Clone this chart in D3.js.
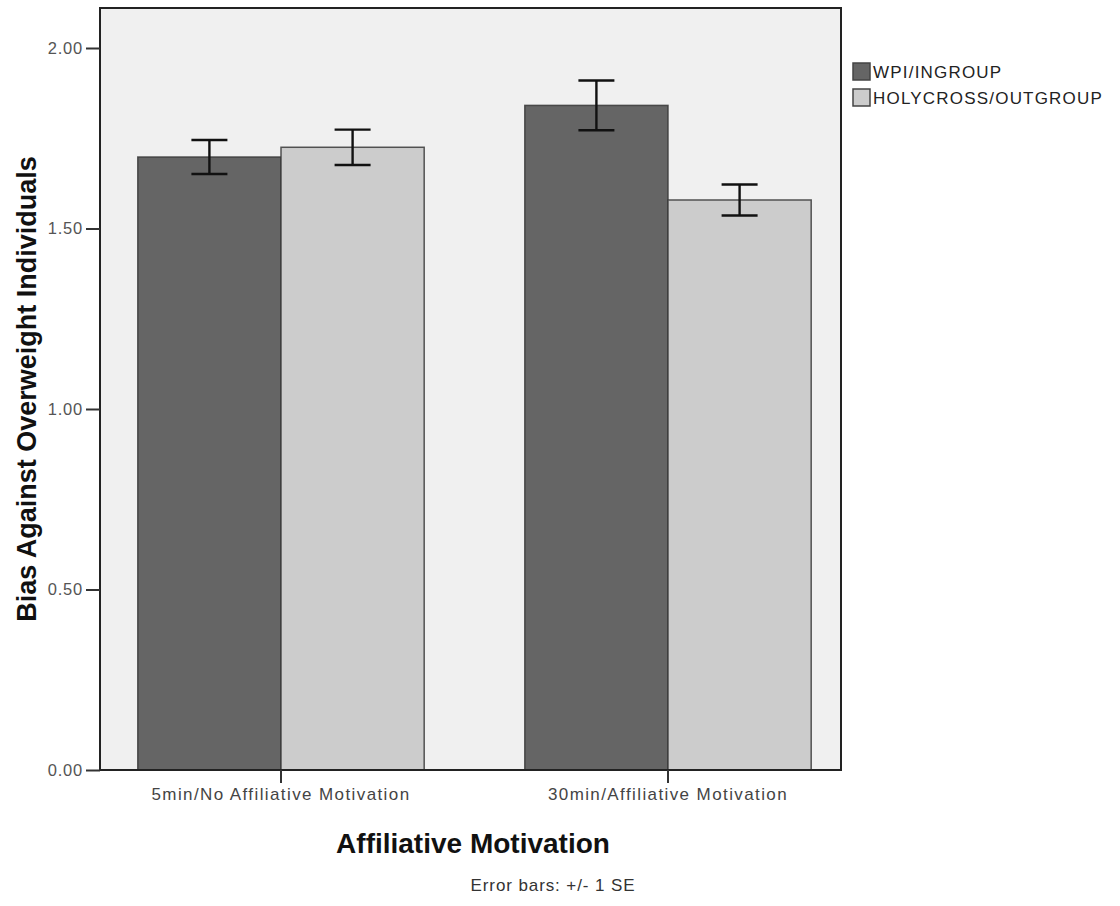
<!DOCTYPE html>
<html><head><meta charset="utf-8">
<script src="https://cdn.jsdelivr.net/npm/d3@7"></script>
<style>
body{margin:0;background:#fff;}
svg text{font-family:"Liberation Sans",Arial,sans-serif;}
</style></head>
<body><svg id="c" width="1120" height="906"></svg>
<script>
const categories = ["5min/No Affiliative Motivation", "30min/Affiliative Motivation"];
const series = ["WPI/INGROUP", "HOLYCROSS/OUTGROUP"];
const wpiMeans = [1.698, 1.841];
const wpiSE = [0.047, 0.069];
const hcMeans = [1.725, 1.579];
const hcSE = [0.049, 0.043];
const yTicks = [0, 0.5, 1.0, 1.5, 2.0];
const colors = ["#656565", "#cccccc"];

const means = [wpiMeans, hcMeans];
const ses = [wpiSE, hcSE];
const data = [];
categories.forEach((c, i) => series.forEach((s, j) => data.push({cat: c, ser: s, v: means[j][i], se: ses[j][i]})));

const svg = d3.select("#c");
const plot = {l: 100, r: 841, t: 8, b: 770};

svg.append("rect").attr("x", plot.l).attr("y", plot.t).attr("width", plot.r - plot.l).attr("height", plot.b - plot.t)
  .attr("fill", "#f0f0f0");

const y = d3.scaleLinear().domain([0, 2]).range([770, 48]);
const x0 = d3.scaleBand().domain(categories).range([87.5, 861.5]).paddingInner(0.26).paddingOuter(0.13);
const x1 = d3.scaleBand().domain(series).range([0, x0.bandwidth()]);
const color = d3.scaleOrdinal().domain(series).range(colors);

// bars
svg.append("g").selectAll("rect").data(data).join("rect")
  .attr("x", d => x0(d.cat) + x1(d.ser))
  .attr("y", d => y(d.v))
  .attr("width", x1.bandwidth())
  .attr("height", d => y(0) - y(d.v))
  .attr("fill", d => color(d.ser))
  .attr("stroke", "#3a3a3a").attr("stroke-width", 1.5).attr("stroke-opacity", 0.85);

// error bars
const eb = svg.append("g").attr("stroke", "#111").attr("stroke-width", 2.4);
data.forEach(d => {
  const cx = x0(d.cat) + x1(d.ser) + x1.bandwidth() / 2;
  eb.append("line").attr("x1", cx).attr("x2", cx).attr("y1", y(d.v + d.se)).attr("y2", y(d.v - d.se));
  eb.append("line").attr("x1", cx - 18).attr("x2", cx + 18).attr("y1", y(d.v + d.se)).attr("y2", y(d.v + d.se));
  eb.append("line").attr("x1", cx - 18).attr("x2", cx + 18).attr("y1", y(d.v - d.se)).attr("y2", y(d.v - d.se));
});

// frame
svg.append("rect").attr("x", plot.l).attr("y", plot.t).attr("width", plot.r - plot.l).attr("height", plot.b - plot.t)
  .attr("fill", "none").attr("stroke", "#222").attr("stroke-width", 2);

// y axis
const yAxis = svg.append("g").attr("transform", `translate(${plot.l},0)`)
  .call(d3.axisLeft(y).tickValues(yTicks).tickFormat(d3.format(".2f")).tickSize(14).tickPadding(3));
yAxis.select(".domain").remove();
yAxis.selectAll(".tick line").attr("stroke", "#333").attr("stroke-width", 2);
yAxis.selectAll(".tick text").attr("font-size", 16.5).attr("fill", "#555").style("letter-spacing", "0.8px")
  .attr("font-family", "Liberation Sans, Arial, sans-serif");

// x axis
const xAxis = svg.append("g").attr("transform", `translate(0,${plot.b})`)
  .call(d3.axisBottom(x0).tickSize(13).tickPadding(5));
xAxis.select(".domain").remove();
xAxis.selectAll(".tick line").attr("stroke", "#333").attr("stroke-width", 2);
xAxis.selectAll(".tick text").attr("font-size", 17).attr("fill", "#444").style("letter-spacing", "1.4px")
  .attr("font-family", "Liberation Sans, Arial, sans-serif");

// titles
svg.append("text").attr("transform", "translate(36,389) rotate(-90)").attr("text-anchor", "middle")
  .attr("font-size", 27).attr("font-weight", "bold").attr("fill", "#111").text("Bias Against Overweight Individuals");
svg.append("text").attr("x", 473).attr("y", 853).attr("text-anchor", "middle")
  .attr("font-size", 28).attr("font-weight", "bold").attr("fill", "#111").text("Affiliative Motivation");
svg.append("text").attr("x", 553).attr("y", 891).attr("text-anchor", "middle")
  .attr("font-size", 17).attr("fill", "#333").style("letter-spacing", "0.9px").text("Error bars: +/- 1 SE");

// legend
const lg = svg.append("g").attr("transform", "translate(853,63)");
series.forEach((s, i) => {
  const g = lg.append("g").attr("transform", `translate(0,${i * 26})`);
  g.append("rect").attr("x", 0).attr("y", 0).attr("width", 17).attr("height", 17)
    .attr("fill", color(s)).attr("stroke", "#444").attr("stroke-width", 1.5);
  g.append("text").attr("x", 20).attr("y", 15).attr("font-size", 17).attr("fill", "#222")
    .style("letter-spacing", "1.2px").text(s);
});
</script></body></html>
